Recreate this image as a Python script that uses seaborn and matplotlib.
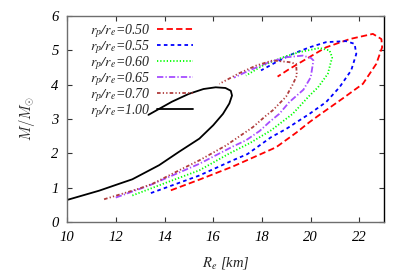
import numpy as np
import pandas as pd
import matplotlib
matplotlib.use("Agg")
import matplotlib.pyplot as plt
import seaborn as sns

# ------------------------------------------------------------------
# data (R_e in km, M in solar masses)
# ------------------------------------------------------------------
labels = ["0.50", "0.55", "0.60", "0.65", "0.70", "1.00"]

re_050 = [14.26, 15.43, 16.8, 18.17, 18.58, 19.4, 19.95, 20.36, 21.32, 22.14, 22.69,
          22.93, 22.9, 22.55, 21.6, 20.63, 19.81, 19.12, 18.64]
m_050 = [0.93, 1.24, 1.62, 2.05, 2.18, 2.6, 2.91, 3.12, 3.6, 4.02, 4.6,
         5.08, 5.32, 5.47, 5.32, 5.08, 4.74, 4.45, 4.23]

re_055 = [13.44, 15.43, 16.8, 17.4, 18.37, 18.99, 19.95, 20.63, 21.18, 21.66, 21.87,
          21.8, 21.45, 20.63, 19.95, 19.26, 18.58, 17.96]
m_055 = [0.85, 1.36, 1.8, 1.98, 2.47, 2.71, 3.15, 3.49, 3.92, 4.41, 4.89,
         5.18, 5.26, 5.23, 5.08, 4.89, 4.65, 4.41]

re_060 = [12.68, 14.06, 15.43, 16.66, 17.5, 18.37, 19.26, 19.95, 20.3, 20.7, 20.88,
          20.77, 20.36, 19.53, 18.85, 18.03, 17.34]
m_060 = [0.78, 1.15, 1.51, 2.0, 2.3, 2.67, 3.15, 3.68, 3.92, 4.31, 4.79,
         4.99, 5.06, 4.94, 4.79, 4.55, 4.26]

re_065 = [12.0, 13.37, 15.43, 16.8, 17.34, 17.9, 18.3, 18.71, 19.12, 19.7, 20.0, 20.11,
          20.01, 19.67, 18.99, 18.3, 17.48, 16.85]
m_065 = [0.72, 1.07, 1.7, 2.2, 2.38, 2.65, 2.91, 3.15, 3.49, 3.85, 4.21, 4.7,
         4.77, 4.84, 4.79, 4.65, 4.41, 4.2]

re_070 = [11.52, 12.96, 13.51, 14.74, 15.43, 16.52, 17.62, 18.17, 18.44, 18.99, 19.26,
          19.43, 19.4, 19.12, 18.44, 17.76, 17.07, 16.25]
m_070 = [0.67, 0.98, 1.12, 1.56, 1.8, 2.23, 2.76, 3.1, 3.25, 3.65, 4.0,
         4.26, 4.6, 4.65, 4.7, 4.55, 4.33, 4.02]

re_100 = [10.0, 11.32, 12.14, 12.68, 13.78, 14.6, 15.43, 16.0, 16.4, 16.66, 16.77,
          16.72, 16.5, 16.1, 15.6, 15.0, 14.3, 13.34]
m_100 = [0.65, 0.92, 1.12, 1.25, 1.66, 2.05, 2.43, 2.82, 3.15, 3.45, 3.68,
         3.82, 3.9, 3.92, 3.87, 3.73, 3.5, 3.12]

all_re = [re_050, re_055, re_060, re_065, re_070, re_100]
all_m = [m_050, m_055, m_060, m_065, m_070, m_100]

# long table for seaborn
rows = []
for lab, xs, ys in zip(labels, all_re, all_m):
    for xv, yv in zip(xs, ys):
        rows.append({"ratio": lab, "Re": xv, "M": yv})
df = pd.DataFrame(rows)

# ------------------------------------------------------------------
# style
# ------------------------------------------------------------------
sns.set_style("ticks")
plt.rcParams["font.family"] = ["Liberation Serif", "DejaVu Serif"]
plt.rcParams["font.style"] = "italic"
plt.rcParams["mathtext.fontset"] = "stix"
plt.rcParams["font.size"] = 10

colors = {"0.50": "#ff0000", "0.55": "#0000ff", "0.60": "#00ff00",
          "0.65": "#a64dff", "0.70": "#b03c3c", "1.00": "#000000"}
dash_map = {"0.50": (3.5, 1.8), "0.55": (2.0, 1.8), "0.60": (0.7, 1.1),
            "0.65": (3.5, 1.2, 0.7, 1.2), "0.70": (2.0, 1.2, 0.7, 1.2, 0.7, 1.2),
            "1.00": ""}

fig = plt.figure(figsize=(3.99, 2.79), dpi=100)
ax = fig.add_axes([0.168, 0.203, 0.794, 0.741])

sns.lineplot(data=df, x="Re", y="M", hue="ratio", style="ratio",
             palette=colors, dashes=dash_map, sort=False, estimator=None,
             units="ratio", linewidth=1.3, legend=False, ax=ax)

ax.set_xlim(10, 23)
ax.set_ylim(0, 6)
ax.set_xticks([10, 12, 14, 16, 18, 20, 22])
ax.set_yticks([0, 1, 2, 3, 4, 5, 6])
ax.tick_params(direction="in", length=3.5, width=0.8, top=True, right=True,
               labelsize=10.5, colors="#333333", labelcolor="black")
ax.tick_params(axis="x", pad=6)
ax.tick_params(axis="y", pad=6)

for side in ["left", "top", "bottom"]:
    ax.spines[side].set_color("#6e6e6e")
    ax.spines[side].set_linewidth(1.0)
ax.spines["right"].set_color("black")
ax.spines["right"].set_linewidth(1.0)

ax.set_xlabel(r"$R_e$ [km]", fontsize=10.5, labelpad=8)
ax.set_ylabel(r"$M/M_{\odot}$", fontsize=10.5, labelpad=10,
              math_fontfamily="cm")

handles = ax.get_lines()[:len(labels)]
leg_labels = [r"$r_p/r_e$=" + lab for lab in labels]
leg = ax.legend(handles, leg_labels, loc="upper left", frameon=False,
                markerfirst=False, handlelength=2.6, handletextpad=0.5,
                labelspacing=-0.12, borderaxespad=0.2,
                bbox_to_anchor=(0.045, 1.01),
                prop={"style": "italic", "size": 10})

fig.savefig("out.png", dpi=100)
